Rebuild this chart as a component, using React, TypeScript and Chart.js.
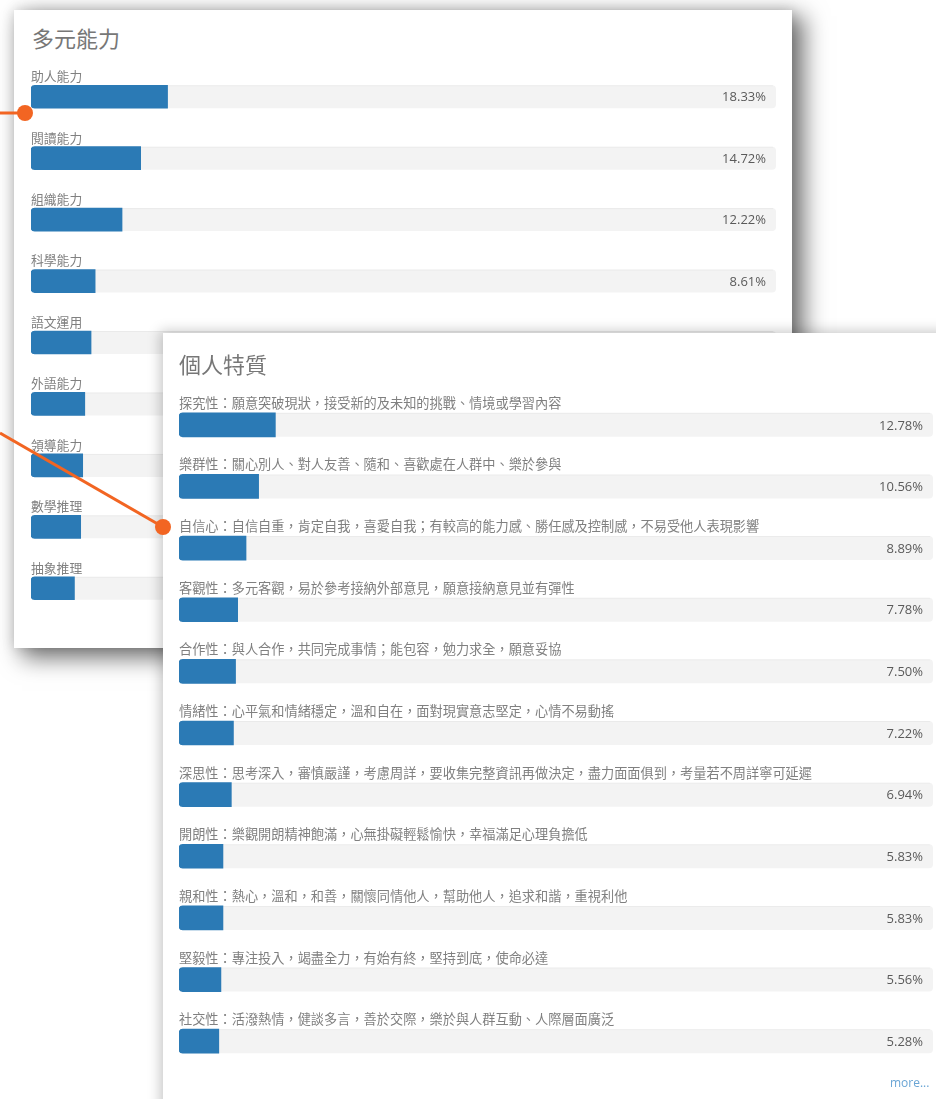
import React, { useEffect, useRef } from "react";
import { Chart, registerables } from "chart.js";

Chart.register(...registerables);

const abilityTitle = "多元能力";
const abilityLabels = ["助人能力", "閱讀能力", "組織能力", "科學能力", "語文運用", "外語能力", "領導能力", "數學推理", "抽象推理"];
const abilityValues = [18.33, 14.72, 12.22, 8.61, 8.06, 7.22, 6.94, 6.67, 5.83];

const traitTitle = "個人特質";
const traitLabels = [
  "探究性：願意突破現狀，接受新的及未知的挑戰、情境或學習內容",
  "樂群性：關心別人、對人友善、隨和、喜歡處在人群中、樂於參與",
  "自信心：自信自重，肯定自我，喜愛自我；有較高的能力感、勝任感及控制感，不易受他人表現影響",
  "客觀性：多元客觀，易於參考接納外部意見，願意接納意見並有彈性",
  "合作性：與人合作，共同完成事情；能包容，勉力求全，願意妥協",
  "情緒性：心平氣和情緒穩定，溫和自在，面對現實意志堅定，心情不易動搖",
  "深思性：思考深入，審慎嚴謹，考慮周詳，要收集完整資訊再做決定，盡力面面俱到，考量若不周詳寧可延遲",
  "開朗性：樂觀開朗精神飽滿，心無掛礙輕鬆愉快，幸福滿足心理負擔低",
  "親和性：熱心，溫和，和善，關懷同情他人，幫助他人，追求和諧，重視利他",
  "堅毅性：專注投入，竭盡全力，有始有終，堅持到底，使命必達",
  "社交性：活潑熱情，健談多言，善於交際，樂於與人群互動、人際層面廣泛",
];
const traitValues = [12.78, 10.56, 8.89, 7.78, 7.5, 7.22, 6.94, 5.83, 5.83, 5.56, 5.28];

const scaleMax = 100;

type ChartProps = {
  labels: string[];
  values: number[];
  width: number;
  height: number;
  thickness: number;
  labelOffset: number;
  labelSize: number;
};

function ProgressChart({ labels, values, width, height, thickness, labelOffset, labelSize }: ChartProps) {
  const ref = useRef<HTMLCanvasElement>(null);
  useEffect(() => {
    if (!ref.current) return;
    const trackPlugin = {
      id: "tracks",
      beforeDatasetsDraw(chart: any) {
        const ctx = chart.ctx;
        const xs = chart.scales.x;
        const meta = chart.getDatasetMeta(0);
        const x0 = xs.getPixelForValue(0);
        const x1 = xs.getPixelForValue(scaleMax);
        ctx.save();
        meta.data.forEach((bar: any) => {
          ctx.fillStyle = "#f3f3f3";
          ctx.beginPath();
          ctx.roundRect(x0, bar.y - thickness / 2, x1 - x0, thickness, 4);
          ctx.fill();
          ctx.fillStyle = "rgba(0,0,0,0.035)";
          ctx.fillRect(x0 + 3, bar.y - thickness / 2, x1 - x0 - 6, 1);
        });
        ctx.restore();
      },
      afterDatasetsDraw(chart: any) {
        const ctx = chart.ctx;
        const xs = chart.scales.x;
        const meta = chart.getDatasetMeta(0);
        const x0 = xs.getPixelForValue(0);
        const x1 = xs.getPixelForValue(scaleMax);
        ctx.save();
        meta.data.forEach((bar: any, i: number) => {
          ctx.font = `${labelSize}px 'Noto Sans CJK TC', sans-serif`;
          ctx.fillStyle = "#808080";
          ctx.textAlign = "left";
          ctx.textBaseline = "middle";
          ctx.fillText(labels[i], x0, bar.y - labelOffset);
          ctx.font = "13px 'Open Sans', sans-serif";
          ctx.fillStyle = "#5a5a5a";
          ctx.textAlign = "right";
          ctx.fillText(values[i].toFixed(2) + "%", x1 - 10, bar.y + 1);
        });
        ctx.restore();
      },
    };
    const chart = new Chart(ref.current, {
      type: "bar",
      data: {
        labels,
        datasets: [
          {
            data: values,
            backgroundColor: "#2b7ab5",
            barThickness: thickness,
            borderWidth: 0,
            borderSkipped: false,
            borderRadius: { topLeft: 4, bottomLeft: 4, topRight: 0, bottomRight: 0 },
          },
        ],
      },
      options: {
        indexAxis: "y",
        responsive: false,
        animation: false,
        devicePixelRatio: 1,
        layout: { padding: 0 },
        scales: {
          x: { display: false, min: 0, max: scaleMax },
          y: { display: false },
        },
        plugins: {
          legend: { display: false },
          tooltip: { enabled: false },
        },
      },
      plugins: [trackPlugin],
    } as any);
    return () => chart.destroy();
  }, [labels, values, width, height, thickness, labelOffset, labelSize]);
  return <canvas ref={ref} width={width} height={height} style={{ display: "block", width, height }} />;
}

const titleStyle: React.CSSProperties = {
  position: "absolute",
  fontFamily: "'Noto Sans CJK TC', sans-serif",
  fontSize: 22,
  lineHeight: "22px",
  color: "#777",
  whiteSpace: "nowrap",
};

export default function App() {
  return (
    <div
      style={{
        position: "absolute",
        left: 0,
        top: 0,
        width: 936,
        height: 1099,
        overflow: "hidden",
        background: "#fff",
      }}
    >
      <div
        style={{
          position: "absolute",
          left: 14,
          top: 10,
          width: 778,
          height: 638,
          background: "#fff",
          zIndex: 1,
          boxShadow: "10px 8px 22px 2px rgba(0,0,0,0.55), 0 0 12px rgba(0,0,0,0.14)",
        }}
      >
        <div style={{ ...titleStyle, left: 18, top: 16 }}>{abilityTitle}</div>
        <div style={{ position: "absolute", left: 17, top: 56 }}>
          <ProgressChart labels={abilityLabels} values={abilityValues} width={745} height={553} thickness={23} labelOffset={20.5} labelSize={12.8} />
        </div>
      </div>
      <div
        style={{
          position: "absolute",
          left: 163,
          top: 333,
          width: 800,
          height: 800,
          background: "#fff",
          zIndex: 2,
          boxShadow: "-3px -2px 12px rgba(0,0,0,0.22)",
        }}
      >
        <div style={{ ...titleStyle, left: 16, top: 19 }}>{traitTitle}</div>
        <div style={{ position: "absolute", left: 16, top: 61 }}>
          <ProgressChart labels={traitLabels} values={traitValues} width={754} height={678} thickness={24} labelOffset={22} labelSize={13.2} />
        </div>
        <div
          style={{
            position: "absolute",
            left: 727,
            top: 743,
            fontFamily: "'Open Sans', sans-serif",
            fontSize: 12,
            lineHeight: "14px",
            color: "#6aa5d5",
          }}
        >
          more...
        </div>
      </div>
      <svg width={936} height={1099} style={{ position: "absolute", left: 0, top: 0, zIndex: 3 }}>
        <line x1={0} y1={113} x2={25} y2={113} stroke="#f26522" strokeWidth={3} />
        <circle cx={25} cy={113} r={8} fill="#f26522" />
        <line x1={0} y1={433} x2={163} y2={527} stroke="#f26522" strokeWidth={3} />
        <circle cx={163} cy={527} r={8} fill="#f26522" />
      </svg>
    </div>
  );
}
